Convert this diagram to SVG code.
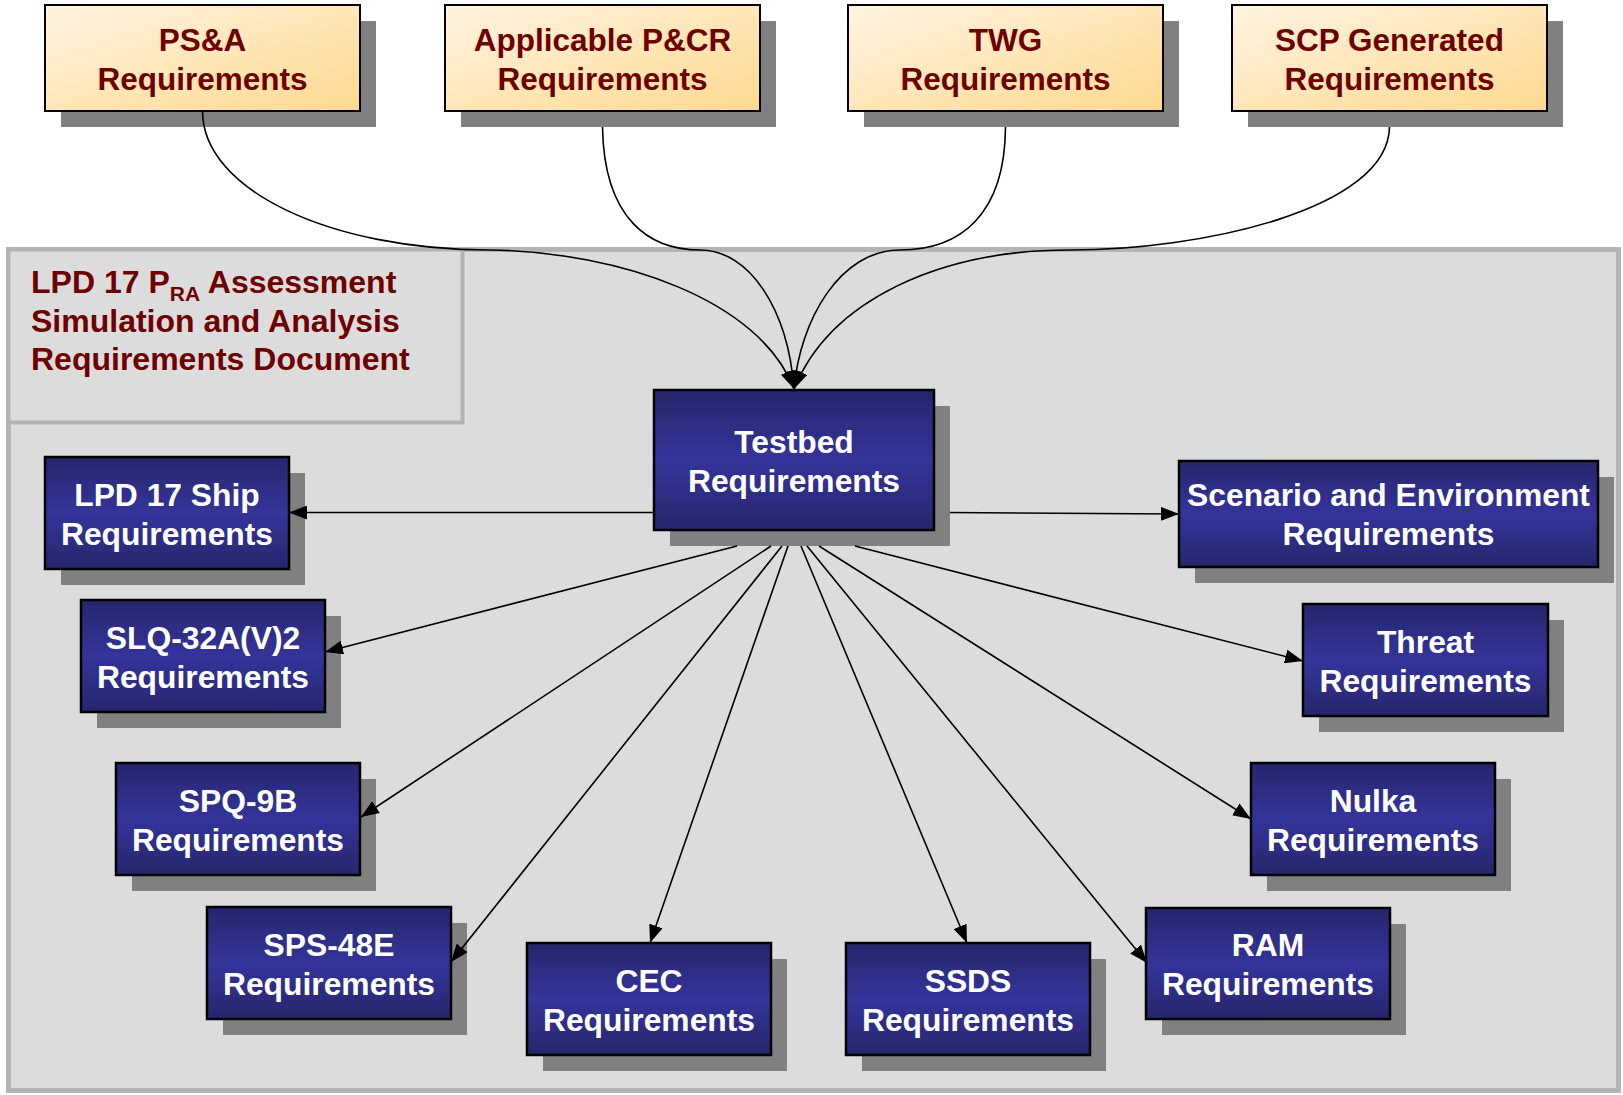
<svg xmlns="http://www.w3.org/2000/svg" width="1623" height="1095" viewBox="0 0 1623 1095">
<defs>
  <linearGradient id="gTop" x1="0" y1="0" x2="1" y2="1">
    <stop offset="0" stop-color="#fff4e2"/>
    <stop offset="1" stop-color="#ffd98f"/>
  </linearGradient>
  <linearGradient id="gBlue" x1="0" y1="0" x2="0" y2="1">
    <stop offset="0" stop-color="#26266c"/>
    <stop offset="0.5" stop-color="#34349b"/>
    <stop offset="1" stop-color="#26266c"/>
  </linearGradient>
  <marker id="arr" markerUnits="userSpaceOnUse" markerWidth="19" markerHeight="14" refX="18" refY="7" orient="auto">
    <path d="M0,0 L18,7 L0,14 z" fill="#000"/>
  </marker>
  <style>
    .shadow { fill: #808080; }
    .top { fill: url(#gTop); stroke: #000; stroke-width: 2; }
    .blue { fill: url(#gBlue); stroke: #000; stroke-width: 2.5; }
    .tt { font-family: "Liberation Sans", Arial, sans-serif; font-weight: bold; font-size: 31.5px; fill: #6e0000; text-anchor: middle; }
    .bt { font-family: "Liberation Sans", Arial, sans-serif; font-weight: bold; font-size: 31.8px; fill: #ffffff; text-anchor: middle; }
    .title { font-family: "Liberation Sans", Arial, sans-serif; font-weight: bold; font-size: 32px; fill: #6e0000; }
    .con { fill: none; stroke: #000; stroke-width: 1.6; marker-end: url(#arr); }
  </style>
</defs>
<rect width="1623" height="1095" fill="#ffffff"/>

<g id="container">
  <rect x="8.5" y="249.5" width="1610" height="841" fill="#dcdcdc" stroke="#b4b4b4" stroke-width="5"/>
  <rect x="8.5" y="249.5" width="454" height="173" fill="#dcdcdc" stroke="#b4b4b4" stroke-width="4"/>
  <text class="title" x="31" y="293">LPD 17 P<tspan font-size="21" dy="8">RA</tspan><tspan dy="-8"> Assessment</tspan></text>
  <text class="title" x="31" y="332">Simulation and Analysis</text>
  <text class="title" x="31" y="370">Requirements Document</text>
</g>

<g id="node-psa">
  <rect class="shadow" x="61" y="21" width="315" height="106"/>
  <rect class="top" x="45" y="5" width="315" height="106"/>
  <text class="tt" x="202.5" y="51">PS&amp;A</text>
  <text class="tt" x="202.5" y="89.5">Requirements</text>
</g>
<g id="node-pcr">
  <rect class="shadow" x="461" y="21" width="315" height="106"/>
  <rect class="top" x="445" y="5" width="315" height="106"/>
  <text class="tt" x="602.5" y="51">Applicable P&amp;CR</text>
  <text class="tt" x="602.5" y="89.5">Requirements</text>
</g>
<g id="node-twg">
  <rect class="shadow" x="864" y="21" width="315" height="106"/>
  <rect class="top" x="848" y="5" width="315" height="106"/>
  <text class="tt" x="1005.5" y="51">TWG</text>
  <text class="tt" x="1005.5" y="89.5">Requirements</text>
</g>
<g id="node-scp">
  <rect class="shadow" x="1248" y="21" width="315" height="106"/>
  <rect class="top" x="1232" y="5" width="315" height="106"/>
  <text class="tt" x="1389.5" y="51">SCP Generated</text>
  <text class="tt" x="1389.5" y="89.5">Requirements</text>
</g>

<g id="node-testbed">
  <rect class="shadow" x="670" y="406" width="280" height="140"/>
  <rect class="blue" x="654" y="390" width="280" height="140"/>
  <text class="bt" x="794" y="453">Testbed</text>
  <text class="bt" x="794" y="492">Requirements</text>
</g>
<g id="node-scenario">
  <rect class="shadow" x="1195" y="477" width="419" height="106"/>
  <rect class="blue" x="1179" y="461" width="419" height="106"/>
  <text class="bt" x="1388.5" y="506">Scenario and Environment</text>
  <text class="bt" x="1388.5" y="545">Requirements</text>
</g>
<g id="node-lpd">
  <rect class="shadow" x="61" y="473" width="244" height="112"/>
  <rect class="blue" x="45" y="457" width="244" height="112"/>
  <text class="bt" x="167" y="506">LPD 17 Ship</text>
  <text class="bt" x="167" y="545">Requirements</text>
</g>
<g id="node-slq">
  <rect class="shadow" x="97" y="616" width="244" height="112"/>
  <rect class="blue" x="81" y="600" width="244" height="112"/>
  <text class="bt" x="203" y="649">SLQ-32A(V)2</text>
  <text class="bt" x="203" y="688">Requirements</text>
</g>
<g id="node-spq">
  <rect class="shadow" x="132" y="779" width="244" height="112"/>
  <rect class="blue" x="116" y="763" width="244" height="112"/>
  <text class="bt" x="238" y="812">SPQ-9B</text>
  <text class="bt" x="238" y="851">Requirements</text>
</g>
<g id="node-sps">
  <rect class="shadow" x="223" y="923" width="244" height="112"/>
  <rect class="blue" x="207" y="907" width="244" height="112"/>
  <text class="bt" x="329" y="956">SPS-48E</text>
  <text class="bt" x="329" y="995">Requirements</text>
</g>
<g id="node-cec">
  <rect class="shadow" x="543" y="959" width="244" height="112"/>
  <rect class="blue" x="527" y="943" width="244" height="112"/>
  <text class="bt" x="649" y="992">CEC</text>
  <text class="bt" x="649" y="1031">Requirements</text>
</g>
<g id="node-ssds">
  <rect class="shadow" x="862" y="959" width="244" height="112"/>
  <rect class="blue" x="846" y="943" width="244" height="112"/>
  <text class="bt" x="968" y="992">SSDS</text>
  <text class="bt" x="968" y="1031">Requirements</text>
</g>
<g id="node-ram">
  <rect class="shadow" x="1162" y="924" width="244" height="111"/>
  <rect class="blue" x="1146" y="908" width="244" height="111"/>
  <text class="bt" x="1268" y="956">RAM</text>
  <text class="bt" x="1268" y="995">Requirements</text>
</g>
<g id="node-nulka">
  <rect class="shadow" x="1267" y="779" width="244" height="112"/>
  <rect class="blue" x="1251" y="763" width="244" height="112"/>
  <text class="bt" x="1373" y="812">Nulka</text>
  <text class="bt" x="1373" y="851">Requirements</text>
</g>
<g id="node-threat">
  <rect class="shadow" x="1319" y="620" width="245" height="112"/>
  <rect class="blue" x="1303" y="604" width="245" height="112"/>
  <text class="bt" x="1425.5" y="653">Threat</text>
  <text class="bt" x="1425.5" y="692">Requirements</text>
</g>

<g id="connectors">
  <path class="con" d="M202.5,111 C202.5,190 330,250 490,250 C620,252 760,300 794,389"/>
  <path class="con" d="M602.5,127 C604,220 650,250 700,250 C750,250 788,310 794,389"/>
  <path class="con" d="M1005.5,127 C1005,215 960,250 900,250 C840,250 800,320 794,389"/>
  <path class="con" d="M1389.5,127 C1388,210 1200,250 1070,250 C940,250 830,300 794,389"/>
  <path class="con" d="M654,512.5 L289,512.5"/>
  <path class="con" d="M950,512.5 L1179,514"/>
  <path class="con" d="M737,546 L325,652"/>
  <path class="con" d="M771,546 L361,817"/>
  <path class="con" d="M782,546 L451,962"/>
  <path class="con" d="M788,546 L650,943"/>
  <path class="con" d="M801,546 L967,943"/>
  <path class="con" d="M807,546 L1147,963"/>
  <path class="con" d="M819,546 L1251,819"/>
  <path class="con" d="M855,546 L1303,661"/>
</g>
</svg>
